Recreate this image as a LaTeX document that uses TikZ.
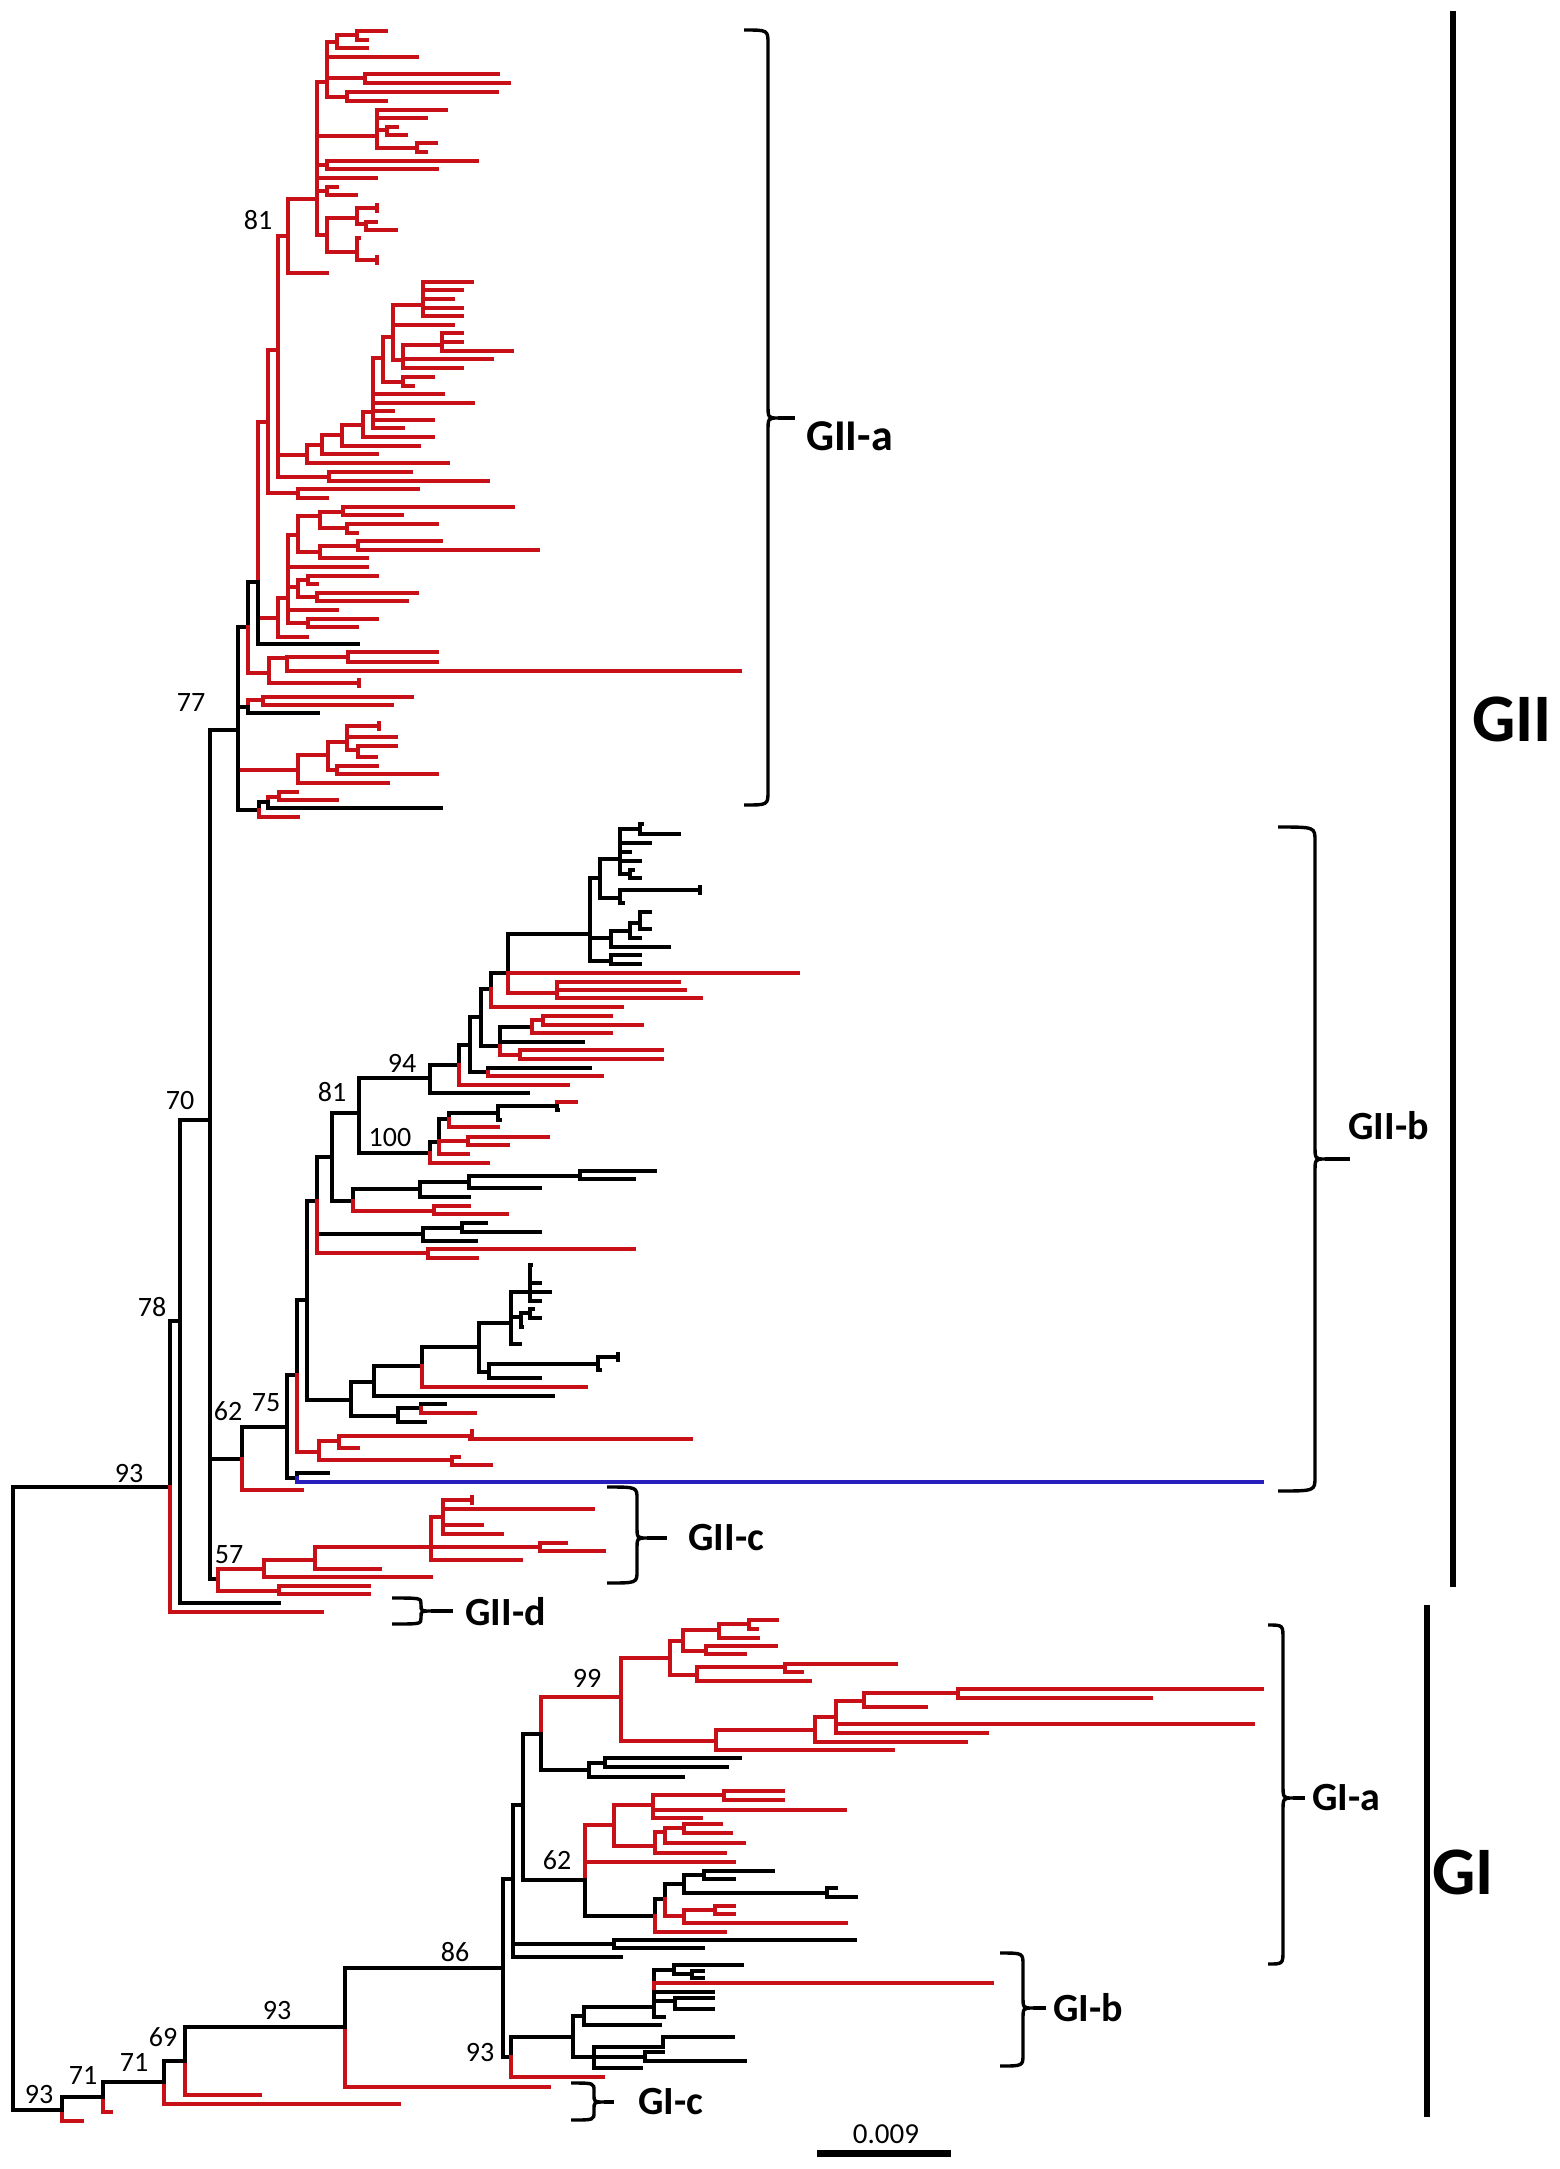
\documentclass[tikz,border=0pt]{standalone}
\usepackage{fontspec}
\setmainfont{Carlito}
\definecolor{treered}{RGB}{200,16,24}
\definecolor{treeblue}{RGB}{40,30,190}
\newcommand\TK[4]{\draw[kb] (#1,#2) |- (#3,#4);}
\newcommand\TR[4]{\draw[rb] (#1,#2) |- (#3,#4);}
\newcommand\TB[4]{\draw[bb] (#1,#2) |- (#3,#4);}
\newcommand\TickK[2]{\draw[kb,line cap=butt] (#1,{#2-5}) -- (#1,{#2+5});}
\newcommand\TickR[2]{\draw[rb,line cap=butt] (#1,{#2-5}) -- (#1,{#2+5});}
\newcommand\Brc[7]{%
  \draw[brs] (#1,#3) .. controls (#2,#3) .. (#2,{#3+#7}) -- (#2,{#5-#7})
    .. controls (#2,#5) .. ({#2+10},#5) .. controls (#2,#5) .. (#2,{#5+#7})
    -- (#2,{#4-#7}) .. controls (#2,#4) .. (#1,#4);
  \draw[brs] ({#2+10},#5) -- (#6,#5);}
\begin{document}
\begin{tikzpicture}[x=1pt,y=-1pt,
  kb/.style={line width=3.2pt,black,line cap=rect},
  rb/.style={line width=3.2pt,treered,line cap=rect},
  bb/.style={line width=3.2pt,treeblue,line cap=rect},
  brs/.style={line width=3.4pt,black},
  bs/.style={font=\fontsize{28}{28}\selectfont,inner sep=0pt},
  lab/.style={font=\bfseries\fontsize{40}{40}\selectfont,inner sep=0pt,anchor=west},
  big/.style={font=\bfseries\fontsize{68}{68}\selectfont,inner sep=0pt}]
\useasboundingbox (0,0) rectangle (1559,2169);
% ---------------- root and GII backbone
\TK{13}{1487}{170}{1487}
\TK{13}{1487}{62}{2110}
\TK{170}{1487}{180}{1321}
\TR{170}{1487}{322}{1612}
\TK{180}{1321}{210}{1120}
\TK{180}{1321}{279}{1603}
\TK{210}{1120}{238}{730}
\TK{210}{1120}{242}{1459}
\TK{210}{1120}{218}{1579}
% ---------------- GII-a
\TK{238}{730}{248}{627}
\TK{238}{730}{248}{707}
\TR{238}{730}{298}{770}
\TK{238}{730}{259}{810}
\TK{248}{627}{258}{582}
\TR{248}{627}{269}{673}
\TR{258}{582}{268}{422}
\TR{258}{582}{278}{618}
\TK{258}{582}{358}{644}
\TR{268}{422}{278}{350}
\TR{268}{422}{298}{493}
\TR{298}{493}{418}{489}
\TR{298}{493}{327}{498}
\TR{278}{350}{288}{236}
\TR{278}{350}{307}{455}
\TR{278}{350}{329}{477}
\TR{329}{477}{411}{472}
\TR{329}{477}{488}{481}
\TR{288}{236}{317}{199}
\TR{288}{236}{327}{273}
\TR{317}{199}{327}{82}
\TR{317}{199}{377}{136}
\TR{317}{199}{327}{165}
\TR{317}{199}{376}{178}
\TR{317}{199}{327}{191}
\TR{317}{199}{327}{235}
\TR{327}{82}{337}{42}
\TR{327}{82}{417}{57}
\TR{327}{82}{365}{78}
\TR{327}{82}{347}{97}
\TR{337}{42}{357}{35}
\TR{337}{42}{367}{48}
\TR{357}{35}{386}{31}
\TR{357}{35}{367}{40}
\TR{365}{78}{498}{74}
\TR{365}{78}{509}{83}
\TR{347}{97}{497}{92}
\TR{347}{97}{386}{101}
\TR{377}{136}{446}{110}
\TR{377}{136}{426}{118}
\TR{377}{136}{387}{130}
\TR{377}{136}{417}{148}
\TR{387}{130}{397}{127}
\TR{387}{130}{406}{135}
\TR{417}{148}{436}{143}
\TR{417}{148}{426}{152}
\TR{327}{165}{477}{161}
\TR{327}{165}{437}{169}
\TR{327}{191}{337}{187}
\TR{327}{191}{356}{195}
\TR{327}{235}{357}{218}
\TR{327}{235}{357}{252}
\TR{357}{218}{377}{208}
\TickR{377}{208}
\TR{357}{218}{366}{224}
\TR{366}{224}{376}{222}
\TR{366}{224}{396}{230}
\TR{357}{252}{359}{238}
\TR{357}{252}{377}{260}
\TickR{377}{260}
\TR{307}{455}{322}{445}
\TR{307}{455}{448}{463}
\TR{322}{445}{342}{435}
\TR{322}{445}{377}{454}
\TR{342}{435}{363}{425}
\TR{342}{435}{419}{446}
\TR{363}{425}{373}{412}
\TR{363}{425}{433}{437}
\TR{373}{412}{383}{358}
\TR{373}{412}{443}{394}
\TR{373}{412}{473}{403}
\TR{373}{412}{393}{411}
\TR{373}{412}{433}{420}
\TR{373}{412}{403}{428}
\TR{383}{358}{393}{337}
\TR{383}{358}{403}{382}
\TR{393}{337}{423}{305}
\TR{393}{337}{453}{325}
\TR{393}{337}{403}{360}
\TR{423}{305}{472}{282}
\TR{423}{305}{462}{290}
\TR{423}{305}{453}{299}
\TR{423}{305}{462}{308}
\TR{423}{305}{462}{316}
\TR{403}{360}{442}{345}
\TR{403}{360}{492}{359}
\TR{403}{360}{462}{368}
\TR{442}{345}{462}{333}
\TR{442}{345}{462}{342}
\TR{442}{345}{512}{351}
\TR{403}{382}{433}{377}
\TR{403}{382}{413}{386}
\TR{278}{618}{288}{598}
\TR{278}{618}{307}{637}
\TR{288}{598}{298}{535}
\TR{288}{598}{367}{567}
\TR{288}{598}{298}{587}
\TR{288}{598}{337}{610}
\TR{288}{598}{308}{623}
\TR{298}{535}{320}{516}
\TR{298}{535}{320}{552}
\TR{320}{516}{343}{512}
\TR{320}{516}{347}{528}
\TR{343}{512}{513}{507}
\TR{343}{512}{402}{515}
\TR{347}{528}{437}{524}
\TR{347}{528}{357}{533}
\TR{320}{552}{358}{546}
\TR{320}{552}{367}{558}
\TR{358}{546}{441}{541}
\TR{358}{546}{538}{550}
\TR{298}{587}{308}{580}
\TR{298}{587}{317}{597}
\TR{308}{580}{377}{576}
\TR{308}{580}{317}{584}
\TR{317}{597}{417}{593}
\TR{317}{597}{407}{601}
\TR{308}{623}{377}{619}
\TR{308}{623}{357}{627}
\TR{269}{673}{287}{658}
\TR{269}{673}{359}{683}
\TickR{359}{683}
\TR{287}{658}{348}{657}
\TR{287}{658}{740}{671}
\TR{348}{657}{437}{652}
\TR{348}{657}{437}{662}
\TR{248}{707}{263}{700}
\TK{248}{707}{318}{713}
\TR{263}{700}{412}{697}
\TR{263}{700}{392}{705}
\TR{298}{770}{328}{755}
\TR{298}{770}{388}{783}
\TR{328}{755}{347}{742}
\TR{328}{755}{337}{770}
\TR{347}{742}{379}{726}
\TickR{379}{726}
\TR{347}{742}{396}{737}
\TR{347}{742}{358}{750}
\TR{358}{750}{396}{746}
\TR{358}{750}{376}{757}
\TR{337}{770}{377}{766}
\TR{337}{770}{437}{774}
\TK{259}{810}{268}{802}
\TR{259}{810}{298}{817}
\TR{268}{802}{279}{797}
\TK{268}{802}{441}{808}
\TR{279}{797}{297}{792}
\TR{279}{797}{337}{800}
% ---------------- GII-b
\TK{242}{1459}{287}{1427}
\TR{242}{1459}{302}{1490}
\TK{287}{1427}{297}{1375}
\TK{287}{1427}{297}{1478}
\TK{297}{1478}{328}{1473}
\TB{297}{1478}{1262}{1482}
\TK{297}{1375}{307}{1300}
\TR{297}{1375}{319}{1452}
\TR{319}{1452}{339}{1441}
\TR{319}{1452}{452}{1460}
\TR{339}{1441}{470}{1436}
\TR{339}{1441}{358}{1448}
\TickR{472}{1434}
\TR{470}{1436}{691}{1439}
\TR{452}{1460}{459}{1457}
\TR{452}{1460}{491}{1465}
\TK{307}{1300}{317}{1201}
\TK{307}{1300}{351}{1400}
\TK{317}{1201}{332}{1157}
\TK{317}{1201}{423}{1234}
\TR{317}{1201}{428}{1253}
\TK{423}{1234}{462}{1228}
\TK{423}{1234}{476}{1241}
\TK{462}{1228}{486}{1223}
\TK{462}{1228}{540}{1232}
\TR{428}{1253}{634}{1249}
\TR{428}{1253}{477}{1258}
\TK{332}{1157}{359}{1113}
\TK{332}{1157}{353}{1201}
\TK{353}{1201}{420}{1189}
\TR{353}{1201}{434}{1211}
\TK{420}{1189}{469}{1182}
\TK{420}{1189}{469}{1197}
\TK{469}{1182}{580}{1176}
\TK{469}{1182}{540}{1188}
\TK{580}{1176}{655}{1171}
\TK{580}{1176}{634}{1179}
\TR{434}{1211}{469}{1206}
\TR{434}{1211}{507}{1214}
\TK{359}{1113}{430}{1078}
\TK{359}{1113}{430}{1153}
\TK{430}{1078}{459}{1065}
\TK{430}{1078}{528}{1093}
\TK{459}{1065}{470}{1045}
\TR{459}{1065}{568}{1085}
\TK{470}{1045}{481}{1017}
\TK{470}{1045}{488}{1072}
\TK{488}{1072}{590}{1068}
\TR{488}{1072}{602}{1076}
\TK{481}{1017}{491}{989}
\TK{481}{1017}{500}{1046}
\TK{491}{989}{508}{973}
\TR{491}{989}{622}{1007}
\TK{508}{973}{590}{934}
\TR{508}{973}{798}{973}
\TR{508}{973}{557}{993}
\TR{557}{993}{679}{982}
\TR{557}{993}{685}{990}
\TR{557}{993}{701}{998}
\TK{590}{934}{600}{878}
\TK{590}{934}{611}{938}
\TK{590}{934}{611}{961}
\TK{600}{878}{620}{859}
\TK{600}{878}{620}{898}
\TK{620}{859}{640}{829}
\TK{620}{859}{650}{843}
\TK{620}{859}{630}{852}
\TK{620}{859}{640}{861}
\TK{620}{859}{630}{874}
\TK{640}{829}{642}{824}
\TK{640}{829}{679}{834}
\TK{630}{874}{633}{870}
\TK{630}{874}{640}{878}
\TK{620}{898}{700}{890}
\TickK{700}{890}
\TK{620}{898}{623}{903}
\TK{611}{938}{630}{931}
\TK{611}{938}{669}{947}
\TK{630}{931}{640}{923}
\TK{630}{931}{640}{938}
\TK{640}{923}{650}{912}
\TK{640}{923}{650}{929}
\TK{611}{961}{640}{955}
\TK{611}{961}{640}{964}
\TK{500}{1046}{532}{1027}
\TK{500}{1046}{583}{1042}
\TR{500}{1046}{520}{1055}
\TR{532}{1027}{543}{1020}
\TR{532}{1027}{611}{1033}
\TR{543}{1020}{611}{1016}
\TR{543}{1020}{642}{1025}
\TR{520}{1055}{662}{1050}
\TR{520}{1055}{662}{1059}
\TK{430}{1153}{439}{1142}
\TR{430}{1153}{488}{1163}
\TK{439}{1142}{449}{1119}
\TR{439}{1142}{468}{1141}
\TR{439}{1142}{468}{1154}
\TR{468}{1141}{548}{1137}
\TR{468}{1141}{508}{1145}
\TK{449}{1119}{498}{1113}
\TR{449}{1119}{498}{1127}
\TK{498}{1113}{557}{1106}
\TK{498}{1113}{500}{1120}
\TR{557}{1106}{576}{1102}
\TK{557}{1106}{558}{1110}
\TK{351}{1400}{374}{1382}
\TK{351}{1400}{398}{1416}
\TK{374}{1382}{422}{1366}
\TK{374}{1382}{553}{1396}
\TK{422}{1366}{479}{1347}
\TR{422}{1366}{586}{1387}
\TK{479}{1347}{511}{1323}
\TK{479}{1347}{489}{1372}
\TK{489}{1372}{598}{1364}
\TK{489}{1372}{540}{1378}
\TK{598}{1364}{618}{1357}
\TickK{618}{1357}
\TK{598}{1364}{600}{1370}
\TK{511}{1323}{530}{1292}
\TK{511}{1323}{521}{1317}
\TK{511}{1323}{520}{1344}
\TK{530}{1292}{531}{1265}
\TK{530}{1292}{540}{1283}
\TK{530}{1292}{550}{1292}
\TK{530}{1292}{540}{1301}
\TK{521}{1317}{530}{1313}
\TK{521}{1317}{522}{1327}
\TK{530}{1313}{533}{1309}
\TK{530}{1313}{540}{1318}
\TK{398}{1416}{421}{1408}
\TK{398}{1416}{425}{1422}
\TK{421}{1408}{445}{1404}
\TR{421}{1408}{475}{1413}
% ---------------- GII-c
\TR{218}{1579}{264}{1569}
\TR{218}{1579}{279}{1591}
\TR{279}{1591}{369}{1586}
\TR{279}{1591}{369}{1594}
\TR{264}{1569}{315}{1560}
\TR{264}{1569}{431}{1577}
\TR{315}{1560}{431}{1547}
\TR{315}{1560}{380}{1569}
\TR{431}{1547}{443}{1517}
\TR{431}{1547}{540}{1547}
\TR{431}{1547}{521}{1560}
\TR{443}{1517}{472}{1500}
\TickR{472}{1500}
\TR{443}{1517}{593}{1509}
\TR{443}{1517}{482}{1525}
\TR{443}{1517}{502}{1534}
\TR{540}{1547}{566}{1543}
\TR{540}{1547}{604}{1551}
% ---------------- GI
\TR{62}{2110}{82}{2121}
\TK{62}{2110}{103}{2097}
\TR{103}{2097}{111}{2112}
\TK{103}{2097}{164}{2082}
\TR{164}{2082}{399}{2104}
\TK{164}{2082}{185}{2061}
\TR{185}{2061}{260}{2095}
\TK{185}{2061}{345}{2027}
\TR{345}{2027}{549}{2087}
\TK{345}{2027}{503}{1968}
\TK{503}{1968}{513}{1879}
\TK{503}{1968}{511}{2057}
\TK{513}{1879}{523}{1805}
\TK{513}{1879}{614}{1944}
\TK{513}{1879}{621}{1957}
\TK{614}{1944}{855}{1940}
\TK{614}{1944}{703}{1948}
\TK{523}{1805}{541}{1734}
\TK{523}{1805}{585}{1880}
\TR{541}{1734}{621}{1697}
\TK{541}{1734}{589}{1770}
\TR{621}{1697}{670}{1658}
\TR{621}{1697}{716}{1741}
\TR{670}{1658}{683}{1641}
\TR{670}{1658}{697}{1675}
\TR{683}{1641}{719}{1630}
\TR{683}{1641}{706}{1651}
\TR{719}{1630}{749}{1624}
\TR{719}{1630}{758}{1638}
\TR{749}{1624}{777}{1620}
\TR{749}{1624}{757}{1629}
\TR{706}{1651}{776}{1646}
\TR{706}{1651}{745}{1654}
\TR{697}{1675}{785}{1667}
\TR{697}{1675}{810}{1681}
\TR{785}{1667}{896}{1664}
\TR{785}{1667}{802}{1672}
\TR{716}{1741}{815}{1730}
\TR{716}{1741}{893}{1750}
\TR{815}{1730}{836}{1717}
\TR{815}{1730}{966}{1742}
\TR{836}{1717}{864}{1701}
\TR{836}{1717}{1253}{1724}
\TR{836}{1717}{987}{1733}
\TR{864}{1701}{958}{1693}
\TR{864}{1701}{926}{1707}
\TR{958}{1693}{1262}{1689}
\TR{958}{1693}{1151}{1698}
\TK{589}{1770}{605}{1763}
\TK{589}{1770}{683}{1777}
\TK{605}{1763}{740}{1758}
\TK{605}{1763}{727}{1767}
\TR{585}{1880}{614}{1825}
\TR{585}{1880}{734}{1862}
\TK{585}{1880}{655}{1916}
\TR{614}{1825}{653}{1805}
\TR{614}{1825}{655}{1846}
\TR{653}{1805}{724}{1795}
\TR{653}{1805}{845}{1810}
\TR{653}{1805}{701}{1818}
\TR{724}{1795}{783}{1791}
\TR{724}{1795}{783}{1800}
\TR{655}{1846}{665}{1832}
\TR{655}{1846}{725}{1853}
\TR{665}{1832}{684}{1828}
\TR{665}{1832}{744}{1843}
\TR{684}{1828}{721}{1824}
\TR{684}{1828}{731}{1833}
\TK{655}{1916}{665}{1899}
\TR{655}{1916}{725}{1932}
\TK{665}{1899}{684}{1884}
\TR{665}{1899}{684}{1916}
\TK{684}{1884}{704}{1875}
\TK{684}{1884}{827}{1893}
\TK{704}{1875}{773}{1871}
\TK{704}{1875}{734}{1879}
\TK{827}{1893}{836}{1888}
\TK{827}{1893}{856}{1897}
\TR{684}{1916}{715}{1910}
\TR{684}{1916}{846}{1923}
\TR{715}{1910}{734}{1906}
\TR{715}{1910}{734}{1914}
% GI-b
\TK{511}{2057}{573}{2037}
\TR{511}{2057}{603}{2077}
\TK{573}{2037}{584}{2016}
\TK{573}{2037}{594}{2057}
\TK{584}{2016}{654}{2007}
\TK{584}{2016}{660}{2025}
\TK{654}{2007}{674}{1970}
\TR{654}{2007}{992}{1983}
\TK{654}{2007}{713}{1992}
\TK{654}{2007}{675}{2001}
\TK{654}{2007}{664}{2017}
\TK{674}{1970}{742}{1965}
\TK{674}{1970}{692}{1974}
\TK{692}{1974}{703}{1971}
\TK{692}{1974}{703}{1978}
\TK{675}{2001}{713}{1998}
\TK{675}{2001}{713}{2009}
\TK{594}{2057}{663}{2047}
\TK{594}{2057}{645}{2057}
\TK{594}{2057}{641}{2068}
\TK{663}{2047}{733}{2037}
\TK{645}{2057}{663}{2052}
\TK{645}{2057}{745}{2061}
% ---------------- bootstrap values
\node[bs] (b81a) at (258,220) {81};
\node[bs] (b77) at (191,703) {77};
\node[bs] (b70) at (180,1100) {70};
\node[bs] (b78) at (152,1307) {78};
\node[bs] (b93a) at (129,1473) {93};
\node[bs] (b62a) at (228,1411) {62};
\node[bs] (b75) at (266,1403) {75};
\node[bs] (b57) at (229,1555) {57};
\node[bs] (b81b) at (332,1092) {81};
\node[bs] (b94) at (402,1063) {94};
\node[bs] (b100) at (390,1137) {100};
\node[bs] (b99) at (587,1678) {99};
\node[bs] (b62b) at (557,1860) {62};
\node[bs] (b86) at (455,1952) {86};
\node[bs] (b93b) at (277,2010) {93};
\node[bs] (b69) at (163,2037) {69};
\node[bs] (b71a) at (134,2062) {71};
\node[bs] (b71b) at (83,2075) {71};
\node[bs] (b93c) at (39,2094) {93};
\node[bs] (b93d) at (480,2052) {93};
% ---------------- braces and clade labels
\Brc{744}{768}{30}{805}{418}{795}{14}
\node[lab,font=\bfseries\fontsize{44}{44}\selectfont] (lGIIa) at (806,436) {GII-a};
\Brc{1278}{1315}{827}{1491}{1159}{1350}{14}
\node[lab] (lGIIb) at (1348,1126) {GII-b};
\Brc{607}{637}{1487}{1583}{1538}{667}{12}
\node[lab] (lGIIc) at (688,1538) {GII-c};
\Brc{392}{421}{1598}{1624}{1611}{453}{6}
\node[lab] (lGIId) at (465,1612) {GII-d};
\Brc{1268}{1283}{1625}{1964}{1798}{1305}{14}
\node[lab] (lGIa) at (1312,1798) {GI-a};
\Brc{1000}{1023}{1953}{2066}{2008}{1046}{12}
\node[lab] (lGIb) at (1053,2008) {GI-b};
\Brc{571}{594}{2083}{2120}{2102}{614}{8}
\node[lab] (lGIc) at (638,2102) {GI-c};
% ---------------- group bars
\draw[line width=6pt] (1453,11) -- (1453,1587);
\node[big] (lGII) at (1512,719) {GII};
\draw[line width=6pt] (1427,1605) -- (1427,2117);
\node[big] (lGI) at (1463,1872) {GI};
% ---------------- scale bar
\draw[line width=7pt] (817,2153) -- (951,2153);
\node[font=\fontsize{29}{29}\selectfont,inner sep=0pt] (sc) at (886,2134) {0.009};
\end{tikzpicture}
\end{document}
